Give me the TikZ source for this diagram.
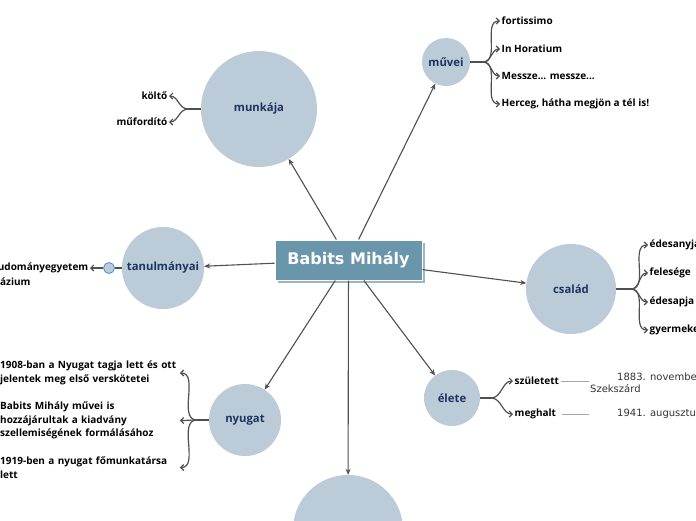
\documentclass[tikz,border=0pt]{standalone}
\usepackage{fontspec}
\setmainfont{Open Sans}
\newfontfamily\dvfont{DejaVu Sans}
\usetikzlibrary{arrows.meta}
\definecolor{circ}{HTML}{BBCBD7}
\definecolor{navy}{HTML}{1D3461}
\definecolor{boxc}{HTML}{6A96AC}
\definecolor{shad}{HTML}{9DB6C4}
\definecolor{lnc}{HTML}{505050}
\definecolor{det}{HTML}{333333}
\definecolor{dotb}{HTML}{4A90D9}
\begin{document}
\begin{tikzpicture}[x=1pt,y=-1pt,
  topic/.style={circle,fill=circ,text=navy,font=\bfseries\fontsize{11.3}{13}\selectfont,inner sep=0pt},
  leaf/.style={font=\bfseries\fontsize{10}{13.5}\selectfont,inner sep=1.5pt,text=black},
  detail/.style={font=\dvfont\fontsize{10}{12}\selectfont,inner sep=1pt,text=det,align=left},
  conn/.style={draw=lnc,line width=1.1pt,-{Stealth[length=6pt,width=5pt]}},
  stem/.style={draw=lnc,line width=1.6pt},
  br/.style={draw=lnc,line width=1.2pt,-{Straight Barb[length=3pt,width=6pt]}},
  gline/.style={draw=gray!70,line width=0.6pt}]
\clip (0,0) rectangle (696,520);
\fill[white] (0,0) rectangle (696,520);

% central topic
\fill[shad] (278,243) rectangle (425,283);
\node[draw=white,line width=1pt,fill=boxc,minimum width=147pt,minimum height=40pt,inner sep=0pt,
  text=white,font=\dvfont\bfseries\fontsize{16}{18}\selectfont] (b) at (348.5,260) {Babits Mihály};

% main topics
\node[topic,minimum size=116pt] (munkaja) at (259,109) {munkája};
\node[topic,minimum size=48pt] (muvei) at (446,62) {művei};
\node[topic,minimum size=82pt] (tanul) at (163,268) {tanulmányai};
\node[topic,minimum size=90pt] (csalad) at (571,289) {család};
\node[topic,minimum size=72pt] (nyugat) at (245,420) {nyugat};
\node[topic,minimum size=56pt] (elete) at (452,398) {élete};
\node[topic,minimum size=110pt] (also) at (348,530) {};

\draw[conn] (b) -- (munkaja);
\draw[conn] (b) -- (muvei);
\draw[conn] (b) -- (tanul);
\draw[conn] (b) -- (csalad);
\draw[conn] (b) -- (nyugat);
\draw[conn] (b) -- (elete);
\draw[conn] (b) -- (also);

% művei
\node[leaf,anchor=west] (m1) at (500,21) {fortissimo};
\node[leaf,anchor=west] (m2) at (500,49) {In Horatium};
\node[leaf,anchor=west] (m3) at (500,76) {Messze... messze...};
\node[leaf,anchor=west] (m4) at (500,104) {Herceg, hátha megjön a tél is!};
\coordinate (mvB) at (483,62);
\draw[stem] (muvei) -- (mvB);
\foreach \t in {m1,m2,m3,m4} \draw[br] (mvB) to[out=0,in=180] (\t.west);

% munkája
\node[leaf,anchor=east] (k1) at (169,96) {költő};
\node[leaf,anchor=east] (k2) at (169,122) {műfordító};
\coordinate (mkB) at (188,109);
\draw[stem] (munkaja) -- (mkB);
\foreach \t in {k1,k2} \draw[br] (mkB) to[out=180,in=0] (\t.east);

% tanulmányai
\node[circle,fill=circ,draw=dotb,line width=0.8pt,minimum size=11pt,inner sep=0pt] (dot) at (109,268) {};
\draw[draw=lnc,line width=1.1pt] (tanul) -- (dot);
\node[leaf,anchor=east] (t1) at (90,268) {udományegyetem};
\node[leaf,anchor=west] (t2) at (-1.5,282) {ázium};
\draw[br] (dot) -- (t1.east);

% család
\node[leaf,anchor=west] (c1) at (648,245) {édesanyja};
\node[leaf,anchor=west] (c2) at (648,273) {felesége};
\node[leaf,anchor=west] (c3) at (648,302) {édesapja};
\node[leaf,anchor=west] (c4) at (648,330) {gyermekei};
\coordinate (csB) at (631,289);
\draw[stem] (csalad) -- (csB);
\foreach \t in {c1,c2,c3,c4} \draw[br] (csB) to[out=0,in=180] (\t.west);

% nyugat
\node[leaf,anchor=west,text width=178pt,align=left] (n1) at (-1.5,373) {1908-ban a Nyugat tagja lett és ott\\jelentek meg első verskötetei};
\node[leaf,anchor=west,text width=178pt,align=left] (n2) at (-1.5,420.5) {Babits Mihály művei is\\hozzájárultak a kiadvány\\szellemiségének formálásához};
\node[leaf,anchor=west,text width=178pt,align=left] (n3) at (-1.5,467.5) {1919-ben a nyugat főmunkatársa\\lett};
\coordinate (nyB) at (197,420);
\draw[stem] (nyugat) -- (nyB);
\foreach \t in {n1,n2,n3} \draw[br] (nyB) to[out=180,in=0] (\t.east);

% élete
\node[leaf,anchor=west] (e1) at (513,381) {született};
\node[leaf,anchor=west] (e2) at (513,414) {meghalt};
\coordinate (elB) at (491,398);
\draw[stem] (elete) -- (elB);
\foreach \t in {e1,e2} \draw[br] (elB) to[out=0,in=180] (\t.west);
\node[detail,anchor=north west] (d1) at (589,372) {\hspace*{27pt}1883. november 26.\\Szekszárd};
\node[detail,anchor=west] (d2) at (589,414) {\hspace*{27pt}1941. augusztus 4.};
\draw[gline] (e1.east) -- (e1.east -| d1.west);
\draw[gline] (e2.east) ++(4,0) -- (d2.west);
\end{tikzpicture}
\end{document}
